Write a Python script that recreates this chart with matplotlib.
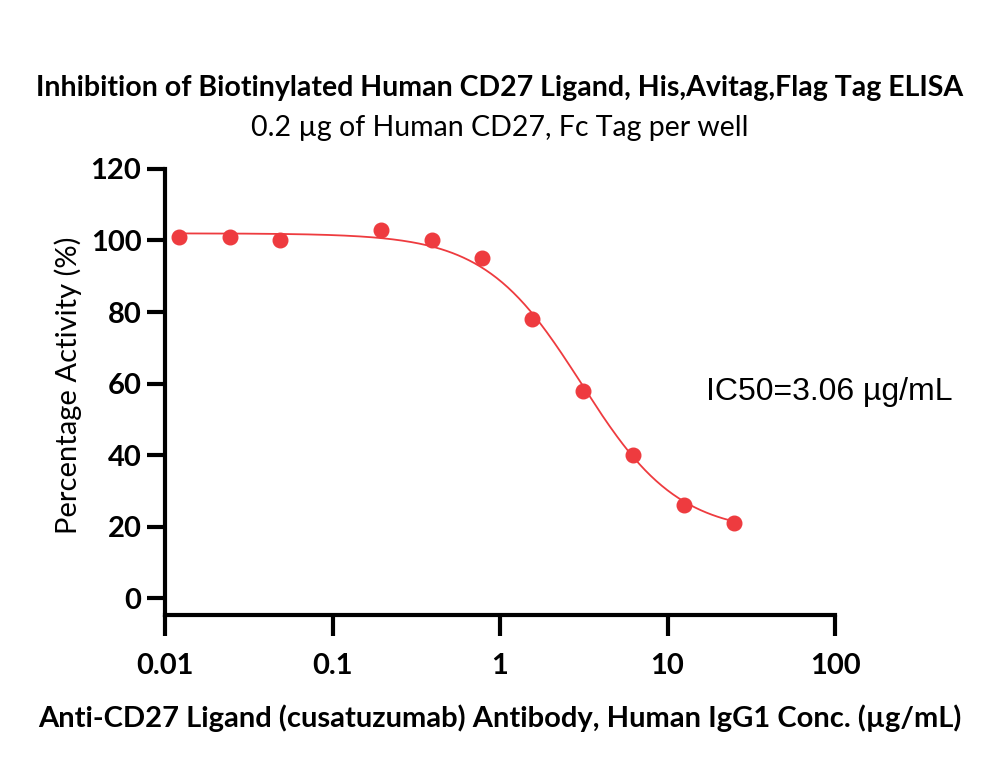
import numpy as np
import matplotlib
matplotlib.use("Agg")
import matplotlib.pyplot as plt

# Data: 2-fold serial dilution (ug/mL) and percentage activity
conc = [0.0122, 0.0244, 0.0488, 0.1953, 0.3906, 0.7813, 1.5625, 3.125, 6.25, 12.5, 25.0]
activity = [101, 101, 100, 103, 100, 95, 78, 58, 40, 26, 21]

# 4PL fit parameters
top, bottom, ic50, hill = 102.0, 18.0, 3.06, 1.5

xticks = [0.01, 0.1, 1, 10, 100]
xtick_labels = ["0.01", "0.1", "1", "10", "100"]
yticks = [0, 20, 40, 60, 80, 100, 120]

red = "#EE3B3F"
font_main = ["Lato", "DejaVu Sans"]

fig = plt.figure(figsize=(10, 7.68), dpi=100)
ax = fig.add_axes([0.165, 0.199, 0.67, 0.581])

xfit = np.logspace(np.log10(conc[0]), np.log10(conc[-1]), 300)
yfit = bottom + (top - bottom) / (1 + (xfit / ic50) ** hill)
ax.plot(xfit, yfit, color=red, lw=1.3)
ax.plot(conc, activity, "o", color=red, ms=10.5, mec=red)

ax.set_xscale("log")
ax.set_xlim(0.01, 100)
ax.set_ylim(-4.75, 120)
ax.set_xticks(xticks)
ax.set_xticklabels(xtick_labels)
ax.minorticks_off()
ax.set_yticks(yticks)

for s in ["top", "right"]:
    ax.spines[s].set_visible(False)
for s in ["left", "bottom"]:
    ax.spines[s].set_linewidth(3)
ax.tick_params(axis="both", width=3, length=13, labelsize=21, pad=4)
ax.tick_params(axis="x", length=15, pad=12)
for lab in ax.get_xticklabels() + ax.get_yticklabels():
    lab.set_fontfamily(font_main)
    lab.set_fontweight("bold")

fig.text(0.068, 0.499, "Percentage Activity (%)", rotation=90, ha="center", va="center",
         fontsize=21, family=font_main)
fig.text(0.5, 0.065, "Anti-CD27 Ligand (cusatuzumab) Antibody, Human IgG1 Conc. (\u00b5g/mL)",
         ha="center", va="center", fontsize=21, fontweight="bold", family=font_main)

fig.text(0.5, 0.885, "Inhibition of Biotinylated Human CD27 Ligand, His,Avitag,Flag Tag ELISA",
         ha="center", va="center", fontsize=20.5, fontweight="bold", family=font_main)
fig.text(0.5, 0.833, "0.2 \u00b5g of Human CD27, Fc Tag per well",
         ha="center", va="center", fontsize=20.5, family=font_main)
ax.text(0.706, 0.49, "IC50=3.06 \u00b5g/mL", transform=fig.transFigure,
        fontsize=23, family=["Liberation Sans", "DejaVu Sans"], va="center")

fig.savefig("out.png", dpi=100)
